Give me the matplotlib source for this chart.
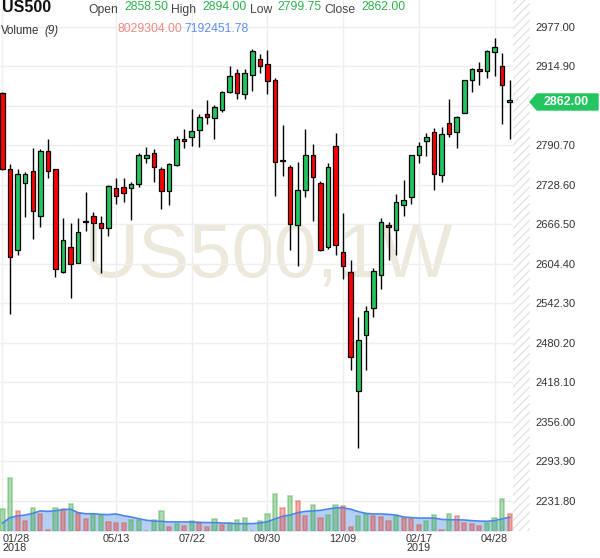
import numpy as np
import matplotlib
matplotlib.use('Agg')
import matplotlib.pyplot as plt
from matplotlib.patches import Rectangle, Polygon

plt.rcParams['font.family'] = ['Liberation Sans', 'DejaVu Sans']

# 週足 US500 (2018/01/28 ～ 2019/05/12)
opens = [2872, 2754, 2626, 2732, 2750, 2680, 2781, 2754, 2592, 2631,
         2605, 2670, 2680, 2668, 2660, 2724, 2725, 2723, 2729, 2771,
         2778, 2754, 2718, 2759, 2801, 2803, 2815, 2839, 2833, 2846,
         2875, 2904, 2871, 2901, 2927, 2919, 2894, 2766, 2756, 2665,
         2720, 2776, 2731, 2631, 2790, 2622, 2591, 2405, 2493, 2534,
         2587, 2666, 2657, 2696, 2709, 2775, 2797, 2811, 2744, 2825,
         2811, 2842, 2894, 2910, 2907, 2937, 2915, 2858.5]
highs = [2875, 2761, 2753, 2748, 2787, 2784, 2800, 2754, 2677, 2669,
         2677, 2717, 2686, 2680, 2728, 2739, 2739, 2733, 2779, 2788,
         2784, 2756, 2763, 2805, 2816, 2847, 2840, 2862, 2854, 2876,
         2915, 2910, 2910, 2942, 2934, 2941, 2897, 2822, 2759, 2764,
         2816, 2792, 2735, 2762, 2810, 2684, 2610, 2520, 2538, 2597,
         2676, 2670, 2714, 2736, 2776, 2795, 2810, 2817, 2819, 2863,
         2837, 2894, 2912, 2921, 2940, 2959, 2935, 2894]
lows = [2752, 2526, 2618, 2678, 2644, 2662, 2739, 2583, 2589, 2550,
        2605, 2656, 2608, 2589, 2648, 2698, 2702, 2673, 2725, 2763,
        2733, 2691, 2696, 2758, 2787, 2790, 2788, 2824, 2800, 2843,
        2873, 2863, 2863, 2876, 2905, 2871, 2711, 2743, 2626, 2600,
        2710, 2671, 2624, 2627, 2618, 2580, 2438, 2314, 2437, 2520,
        2564, 2610, 2618, 2679, 2698, 2762, 2773, 2720, 2733, 2803,
        2787, 2842, 2874, 2886, 2896, 2900, 2824, 2799.75]
closes = [2754, 2615, 2746, 2746, 2688, 2781, 2750, 2596, 2641, 2604,
          2655, 2671, 2669, 2660, 2727, 2711, 2715, 2729, 2776, 2775,
          2757, 2718, 2761, 2800, 2798, 2813, 2835, 2835, 2850, 2874,
          2899, 2872, 2904, 2939, 2916, 2892, 2765, 2767, 2667, 2721,
          2776, 2740, 2626, 2756, 2633, 2601, 2457, 2484, 2530, 2593,
          2670, 2662, 2702, 2704, 2775, 2789, 2804, 2745, 2809, 2809,
          2835, 2893, 2910, 2907, 2939, 2945, 2885, 2862]

# 出来高 (百万) と 9期間平均
volume = [10.2, 24.7, 9.3, 4.6, 10.7, 7.9, 0.6, 10.7, 10.2, 12.5,
          8.5, 5.6, 7.6, 7.4, 4.2, 3.9, 3.7, 5.1, 5.0, 0.15,
          5.2, 9.3, 1.7, 3.2, 2.3, 4.6, 3.9, 1.9, 5.4, 2.8,
          3.6, 5.0, 5.9, 0.15, 4.5, 8.0, 17.2, 10.7, 16.2, 13.9,
          7.0, 12.1, 6.0, 7.6, 12.1, 11.7, 1.9, 7.0, 7.9, 7.0,
          6.5, 4.6, 7.0, 6.0, 5.4, 2.9, 4.6, 7.6, 0.3, 8.0,
          7.1, 3.7, 3.2, 2.3, 3.7, 6.0, 14.8, 8.03]
vol_up = [1, 1, 0, 0, 1, 0, 0, 1, 0, 1,
          0, 0, 1, 1, 0, 0, 0, 1, 1, 0,
          1, 1, 0, 1, 0, 1, 0, 0, 1, 0,
          1, 1, 1, 0, 1, 1, 1, 0, 1, 0,
          0, 1, 0, 1, 1, 0, 0, 1, 1, 0,
          0, 0, 1, 0, 0, 0, 1, 1, 0, 1,
          0, 0, 0, 0, 1, 1, 1, 0]
vol_ma = [3.7, 6.2, 7.0, 7.4, 8.2, 9.3, 9.1, 9.4, 9.9, 10.1,
          8.5, 8.0, 8.0, 7.7, 7.6, 7.9, 7.1, 6.5, 5.7, 5.0,
          4.6, 4.5, 4.2, 4.2, 4.2, 4.2, 4.0, 3.9, 3.9, 3.7,
          3.6, 3.4, 3.4, 3.4, 3.7, 4.3, 5.6, 6.8, 7.4, 8.5,
          9.1, 9.3, 9.6, 10.2, 10.7, 10.8, 10.1, 9.0, 8.2, 7.9,
          7.9, 7.7, 7.4, 6.5, 6.2, 6.0, 6.0, 6.0, 5.4, 5.2,
          5.2, 5.1, 4.8, 4.6, 4.5, 4.8, 5.6, 6.4]

price_ticks = [2977.0 - 62.1 * k for k in range(13)]
date_ticks = [0, 15, 25, 35, 45, 55, 65]
date_labels = ['01/28\n2018', '05/13', '07/22', '09/30', '12/09', '02/17\n2019', '04/28']

GREEN = '#22c55e'
RED = '#ff0000'

fig = plt.figure(figsize=(6, 5.58), dpi=100)
W, H = 600, 558
rect = [0, 27 / H, 513 / W, 531 / H]

ax = fig.add_axes(rect)
n = len(opens)
x = np.arange(n)
ax.set_xlim(-0.33, 67.44)
ax.set_ylim(2184.1, 3019.0)

for s in ax.spines.values():
    s.set_visible(False)

ax.set_yticks(price_ticks)
ax.set_yticklabels(['' if abs(t - 2852.8) < 0.01 else f'{t:.2f}' for t in price_ticks])
ax.yaxis.tick_right()
ax.tick_params(axis='y', length=0, pad=16.5, labelsize=8, labelcolor='#333333')
ax.set_xticks(date_ticks)
ax.set_xticklabels(date_labels)
ax.tick_params(axis='x', length=0, pad=2, labelsize=7.8, labelcolor='#333333')
for lab in ax.get_xticklabels():
    lab.set_linespacing(0.85)
    lab.set_verticalalignment('top')
ax.get_xticklabels()[0].set_horizontalalignment('left')
ax.grid(True, color='#eeeeee', linewidth=1)
ax.set_axisbelow(True)

# ウォーターマーク
ax.text(0.5214, 0.514, 'US500,1W', transform=ax.transAxes, fontsize=55,
        color='#ece8dc', ha='center', va='center', zorder=0.5)

# ローソク足
for i in range(n):
    o, h, l, c = opens[i], highs[i], lows[i], closes[i]
    col = GREEN if c >= o else RED
    ax.vlines(x[i], l, h, color='black', linewidth=1, zorder=2)
    ax.bar(x[i], max(abs(c - o), 0.4), bottom=min(o, c), width=0.6,
           color=col, edgecolor='black', linewidth=0.9, zorder=3)

# 出来高
vax = fig.add_axes(rect, sharex=ax)
vax.patch.set_visible(False)
vax.axis('off')
vax.set_ylim(0, 531 * 0.464)
vax.fill_between(x, 0, vol_ma, color='#6d9eeb', alpha=0.5, linewidth=0)
vax.plot(x, vol_ma, color='#4a86e8', linewidth=1.2)
for i in range(n):
    fc = '#4caf50' if vol_up[i] else '#e0533f'
    vax.bar(x[i], volume[i], width=0.55, color=fc, alpha=0.45,
            edgecolor=fc, linewidth=1.2)

# 装飾 (ヘッダー、バッジ、斜線)
deco = fig.add_axes([0, 0, 1, 1])
deco.set_xlim(0, W)
deco.set_ylim(H, 0)
deco.axis('off')
deco.patch.set_visible(False)

deco.add_patch(Rectangle((513, 0), 17, 531, fill=False, hatch='////',
                         edgecolor='#e4e4e4', linewidth=0))

deco.add_patch(Polygon([(530, 102), (537, 94), (598, 94), (598, 110), (537, 110)],
                       closed=True, facecolor=GREEN, edgecolor=GREEN,
                       linewidth=1, joinstyle='round'))
deco.text(566, 102, '2862.00', color='white', fontsize=9, fontweight='bold',
          ha='center', va='center')

deco.text(2, 8, 'US500', fontsize=11.5, fontweight='bold', color='#111111',
          ha='left', va='center')
hdr = [(88.5, 'Open', '#444444'), (124, '2858.50', '#2bb24c'),
       (171, 'High', '#444444'), (202.7, '2894.00', '#2bb24c'),
       (249.7, 'Low', '#444444'), (277.3, '2799.75', '#2bb24c'),
       (324.7, 'Close', '#444444'), (361.7, '2862.00', '#2bb24c')]
for hx, s, c in hdr:
    dy = 10 if c == '#444444' else 7.5
    deco.text(hx, dy, s, fontsize=8.7, color=c, ha='left', va='center')

deco.text(1, 31, 'Volume', fontsize=8.3, color='#333333', ha='left', va='center')
deco.text(44, 31, '(9)', fontsize=8.3, color='#333333', style='italic',
          ha='left', va='center')
deco.text(117, 29, '8029304.00', fontsize=8.7, color='#ef8a80', ha='left', va='center')
deco.text(184, 29, '7192451.78', fontsize=8.7, color='#5b8ff9', ha='left', va='center')

plt.savefig('out.png', dpi=100)
